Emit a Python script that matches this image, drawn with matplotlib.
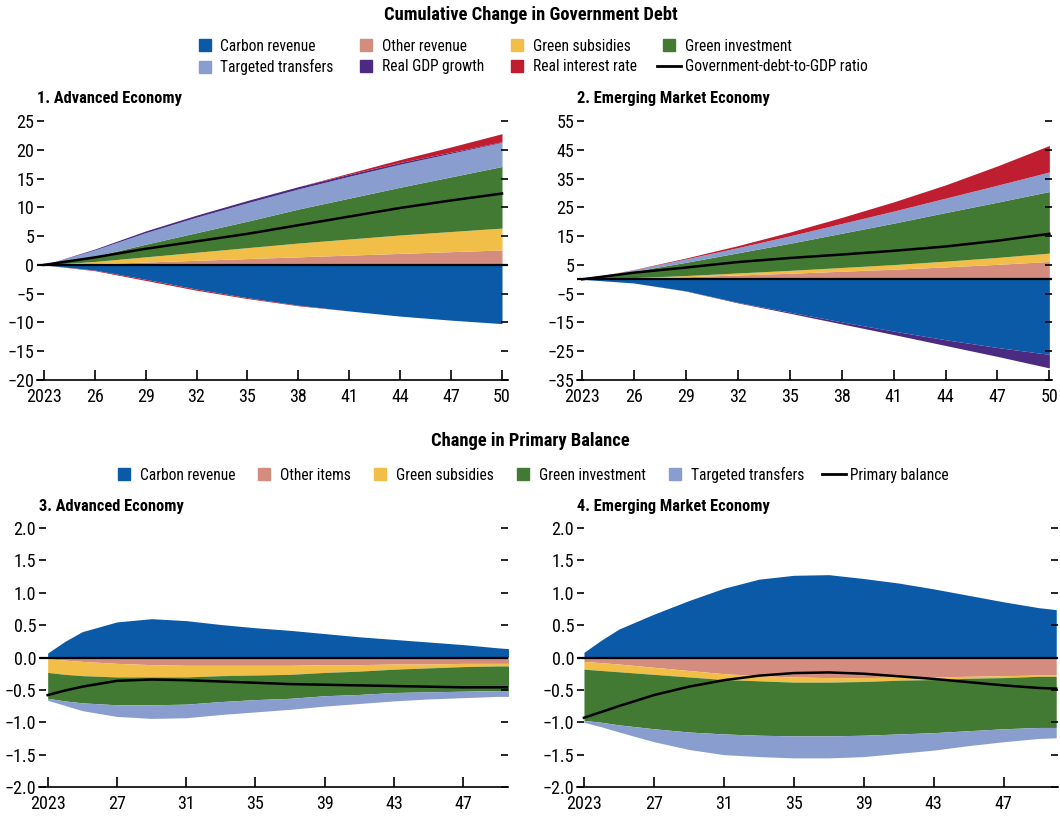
import numpy as np
import matplotlib
matplotlib.use("Agg")
import matplotlib.pyplot as plt
from matplotlib.lines import Line2D

plt.rcParams["font.family"] = ["Roboto Condensed", "DejaVu Sans"]
plt.rcParams["font.stretch"] = "condensed"

# colours
BLUE = "#0A5AA8"
SALMON = "#D48C7E"
YELLOW = "#F1BE48"
GREEN = "#437A33"
LBLUE = "#8A9DCF"
PURPLE = "#4B2A82"
RED = "#BE1E30"

# ---- top panels: cumulative change in government debt ----
debt_years = [2023, 2026, 2029, 2032, 2035, 2038, 2041, 2044, 2047, 2050]
debt_ticklabels = ["2023", "26", "29", "32", "35", "38", "41", "44", "47", "50"]

ae_carbon = [0, -0.9, -2.5, -4.2, -5.7, -7.0, -8.0, -8.9, -9.6, -10.2]
ae_other = [0, 0.2, 0.5, 0.8, 1.1, 1.4, 1.7, 2.0, 2.3, 2.6]
ae_subsidies = [0, 0.4, 0.9, 1.4, 1.9, 2.4, 2.8, 3.2, 3.5, 3.8]
ae_investment = [0, 0.9, 2.2, 3.4, 4.6, 5.9, 7.1, 8.3, 9.5, 10.7]
ae_transfers = [0, 1.1, 2.0, 2.7, 3.2, 3.5, 3.8, 4.0, 4.1, 4.2]
ae_gdp = [0, 0.15, 0.3, 0.35, 0.4, 0.4, 0.35, 0.3, 0.2, 0.1]
ae_interest = [0, -0.1, -0.2, -0.2, -0.15, -0.1, 0.2, 0.5, 0.9, 1.4]
ae_debt = [0, 1.3, 2.8, 4.1, 5.4, 6.9, 8.4, 9.9, 11.2, 12.4]

em_carbon = [0, -1.3, -4.0, -8.0, -11.4, -14.8, -18.0, -21.0, -23.7, -26.1]
em_other = [0, 0.4, 0.9, 1.5, 2.1, 2.8, 3.5, 4.3, 5.2, 6.2]
em_subsidies = [0, 0.2, 0.4, 0.7, 1.0, 1.3, 1.6, 2.0, 2.4, 2.9]
em_investment = [0, 2.2, 4.6, 7.0, 9.4, 11.9, 14.4, 16.9, 19.2, 21.4]
em_transfers = [0, 0.5, 1.2, 1.8, 2.6, 3.4, 4.2, 5.0, 5.9, 6.8]
em_gdp = [0, 0, -0.1, -0.2, -0.4, -0.7, -1.2, -2.0, -3.1, -4.7]
em_interest = [0, 0.1, 0.3, 0.7, 1.3, 2.1, 3.2, 4.6, 6.7, 9.2]
em_debt = [0, 2.3, 4.1, 6.0, 7.4, 8.6, 9.9, 11.4, 13.4, 15.8]

# ---- bottom panels: change in primary balance ----
pb_years = [2023, 2024, 2025, 2027, 2029, 2031, 2033, 2035, 2037, 2039, 2041, 2043, 2045, 2047, 2049, 2050]
pb_ticks = [2023, 2027, 2031, 2035, 2039, 2043, 2047]
pb_ticklabels = ["2023", "27", "31", "35", "39", "43", "47"]

ae_pb_carbon = [0.07, 0.25, 0.40, 0.55, 0.60, 0.57, 0.51, 0.46, 0.42, 0.37, 0.32, 0.28, 0.24, 0.20, 0.15, 0.13]
ae_pb_other = [-0.02, -0.04, -0.06, -0.09, -0.11, -0.12, -0.12, -0.12, -0.12, -0.11, -0.11, -0.10, -0.10, -0.09, -0.09, -0.09]
ae_pb_subsidies = [-0.21, -0.22, -0.22, -0.21, -0.19, -0.18, -0.16, -0.15, -0.14, -0.12, -0.10, -0.08, -0.06, -0.05, -0.04, -0.04]
ae_pb_investment = [-0.40, -0.41, -0.42, -0.43, -0.43, -0.42, -0.40, -0.38, -0.37, -0.36, -0.36, -0.36, -0.37, -0.38, -0.38, -0.38]
ae_pb_transfers = [-0.03, -0.07, -0.12, -0.18, -0.21, -0.21, -0.20, -0.19, -0.17, -0.16, -0.14, -0.13, -0.11, -0.10, -0.09, -0.09]
ae_pb_balance = [-0.58, -0.51, -0.45, -0.36, -0.34, -0.35, -0.37, -0.39, -0.41, -0.42, -0.43, -0.44, -0.45, -0.46, -0.46, -0.46]

em_pb_carbon = [0.08, 0.27, 0.44, 0.67, 0.88, 1.07, 1.21, 1.27, 1.28, 1.22, 1.15, 1.06, 0.96, 0.86, 0.77, 0.74]
em_pb_other = [-0.06, -0.08, -0.10, -0.15, -0.20, -0.25, -0.28, -0.30, -0.31, -0.31, -0.30, -0.30, -0.29, -0.28, -0.27, -0.27]
em_pb_subsidies = [-0.12, -0.12, -0.12, -0.11, -0.10, -0.09, -0.08, -0.08, -0.07, -0.06, -0.05, -0.04, -0.03, -0.03, -0.02, -0.02]
em_pb_investment = [-0.79, -0.80, -0.82, -0.84, -0.85, -0.84, -0.84, -0.83, -0.83, -0.83, -0.83, -0.82, -0.81, -0.79, -0.79, -0.79]
em_pb_transfers = [-0.03, -0.07, -0.11, -0.20, -0.27, -0.32, -0.33, -0.34, -0.34, -0.33, -0.30, -0.27, -0.23, -0.20, -0.17, -0.16]
em_pb_balance = [-0.93, -0.84, -0.75, -0.58, -0.45, -0.35, -0.28, -0.24, -0.23, -0.25, -0.29, -0.33, -0.38, -0.43, -0.47, -0.48]


def stack(ax, x, series):
    # stack positive and negative parts separately, in the given order
    x = np.array(x, dtype=float)
    pos = np.zeros(len(x))
    neg = np.zeros(len(x))
    for vals, color in series:
        v = np.array(vals, dtype=float)
        p = np.maximum(v, 0)
        n = np.minimum(v, 0)
        if p.any():
            ax.fill_between(x, pos, pos + p, color=color, lw=0)
            pos = pos + p
        if n.any():
            ax.fill_between(x, neg, neg + n, color=color, lw=0)
            neg = neg + n


def style(ax, xlim, ylim, yticks, ylabels, xticks, xlabels, title):
    ax.set_xlim(*xlim)
    ax.set_ylim(*ylim)
    for s in ["top", "left", "right"]:
        ax.spines[s].set_visible(False)
    ax.spines["bottom"].set_linewidth(1.2)
    ax.set_yticks(yticks)
    ax.set_yticklabels(ylabels)
    ax.set_xticks(xticks)
    ax.set_xticklabels(xlabels)
    ax.tick_params(axis="y", direction="in", length=5, width=1.2, left=True, right=True,
                   labelsize=13, pad=2)
    ax.tick_params(axis="x", direction="in", length=7, width=1.2, labelsize=13, pad=6)
    ax.axhline(0, color="black", lw=1.6, zorder=3)
    ax.text(0, 1.085, title, transform=ax.transAxes, fontsize=11.8, fontweight="bold",
            va="center", ha="left")


fig = plt.figure(figsize=(10.6, 8.16), dpi=100)

ax1 = fig.add_axes([0.0349, 0.5343, 0.4443, 0.3174])
ax2 = fig.add_axes([0.5443, 0.5343, 0.4481, 0.3174])
ax3 = fig.add_axes([0.0368, 0.0355, 0.4425, 0.3174])
ax4 = fig.add_axes([0.5443, 0.0355, 0.4538, 0.3174])

stack(ax1, debt_years, [(ae_carbon, BLUE), (ae_other, SALMON), (ae_subsidies, YELLOW),
                        (ae_investment, GREEN), (ae_transfers, LBLUE), (ae_gdp, PURPLE),
                        (ae_interest, RED)])
ax1.plot(debt_years, ae_debt, color="black", lw=1.8, zorder=4)
style(ax1, (2022.6, 2050.35), (-20, 25), range(-20, 26, 5),
      [f"{v}".replace("-", "\u2212") for v in range(-20, 26, 5)],
      debt_years, debt_ticklabels, "1. Advanced Economy")

stack(ax2, debt_years, [(em_carbon, BLUE), (em_other, SALMON), (em_subsidies, YELLOW),
                        (em_investment, GREEN), (em_transfers, LBLUE), (em_gdp, PURPLE),
                        (em_interest, RED)])
ax2.plot(debt_years, em_debt, color="black", lw=1.8, zorder=4)
style(ax2, (2022.7, 2050.15), (-35, 55), range(-35, 56, 10),
      [f"{v}".replace("-", "\u2212") for v in range(-35, 56, 10)],
      debt_years, debt_ticklabels, "2. Emerging Market Economy")

pb_yt = np.arange(-2.0, 2.01, 0.5)
pb_yl = [f"{v:.1f}".replace("-", "\u2212") for v in pb_yt]

stack(ax3, pb_years, [(ae_pb_carbon, BLUE), (ae_pb_other, SALMON), (ae_pb_subsidies, YELLOW),
                      (ae_pb_investment, GREEN), (ae_pb_transfers, LBLUE)])
ax3.plot(pb_years, ae_pb_balance, color="black", lw=1.8, zorder=4)
style(ax3, (2022.5, 2049.6), (-2, 2), pb_yt, pb_yl, pb_ticks, pb_ticklabels,
      "3. Advanced Economy")

stack(ax4, pb_years, [(em_pb_carbon, BLUE), (em_pb_other, SALMON), (em_pb_subsidies, YELLOW),
                      (em_pb_investment, GREEN), (em_pb_transfers, LBLUE)])
ax4.plot(pb_years, em_pb_balance, color="black", lw=1.8, zorder=4)
style(ax4, (2022.6, 2050.1), (-2, 2), pb_yt, pb_yl, pb_ticks, pb_ticklabels,
      "4. Emerging Market Economy")


def sq(color):
    return Line2D([], [], marker="s", markersize=8, color=color, linestyle="none")


blk = Line2D([], [], color="black", lw=2)

fig.text(0.501, 0.982, "Cumulative Change in Government Debt", ha="center", va="center",
         fontsize=13.3, fontweight="bold")
h1 = [sq(BLUE), sq(LBLUE), sq(SALMON), sq(PURPLE), sq(YELLOW), sq(RED), sq(GREEN), blk]
l1 = ["Carbon revenue", "Targeted transfers", "Other revenue", "Real GDP growth",
      "Green subsidies", "Real interest rate", "Green investment", "Government-debt-to-GDP ratio"]
fig.legend(h1, l1, ncol=4, loc="center", bbox_to_anchor=(0.5, 0.930), frameon=False,
           fontsize=11.2, handlelength=1.55, handletextpad=0.25, columnspacing=1.3,
           labelspacing=0.35, borderpad=0)

fig.text(0.5, 0.459, "Change in Primary Balance", ha="center", va="center",
         fontsize=13.3, fontweight="bold")
h2 = [sq(BLUE), sq(SALMON), sq(YELLOW), sq(GREEN), sq(LBLUE), blk]
l2 = ["Carbon revenue", "Other items", "Green subsidies", "Green investment",
      "Targeted transfers", "Primary balance"]
fig.legend(h2, l2, ncol=6, loc="center", bbox_to_anchor=(0.5, 0.418), frameon=False,
           fontsize=11.2, handlelength=1.55, handletextpad=0.25, columnspacing=1.1,
           borderpad=0)

fig.savefig("out.png", dpi=100)
